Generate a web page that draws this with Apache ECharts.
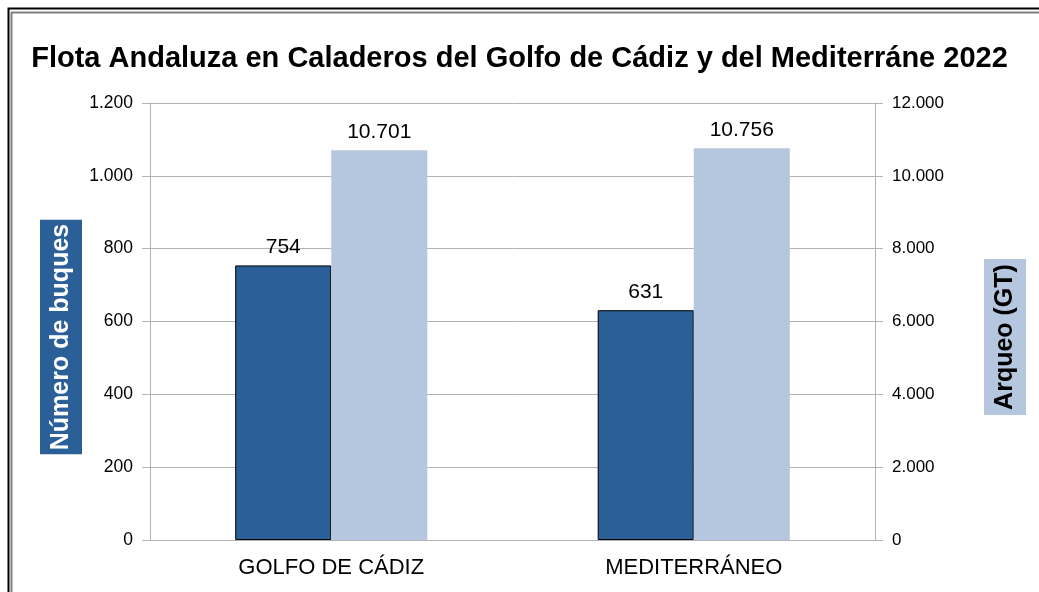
<!DOCTYPE html>
<html>
<head>
<meta charset="utf-8">
<script src="https://cdn.jsdelivr.net/npm/echarts@6/dist/echarts.min.js"></script>
<style>
  html, body { margin: 0; padding: 0; background: #fff; }
  #main { width: 1039px; height: 592px; }
</style>
</head>
<body>
<div id="main"></div>
<script>
var categories = ['GOLFO DE CÁDIZ', 'MEDITERRÁNEO'];
var buques = [754, 631];
var arqueo = [10701, 10756];

var chart = echarts.init(document.getElementById('main'));

function fmt(v) {
    return String(v).replace(/\B(?=(\d{3})+(?!\d))/g, '.');
}

var gray = '#b3b3b3';
var font = '"Liberation Sans", Arial, sans-serif';

var option = {
    backgroundColor: '#fff',
    textStyle: { fontFamily: font },
    title: {
        text: 'Flota Andaluza en Caladeros del Golfo de Cádiz y del Mediterráne 2022',
        left: 'center',
        top: 39,
        textStyle: { fontSize: 29, fontWeight: 'bold', color: '#000', fontFamily: font }
    },
    grid: { left: 150, right: 164, top: 103, bottom: 52 },
    xAxis: {
        type: 'category',
        data: categories,
        axisLine: { lineStyle: { color: gray } },
        axisTick: { length: 8, lineStyle: { color: gray } },
        axisLabel: { color: '#000', fontSize: 22, margin: 17, fontFamily: font }
    },
    yAxis: [{
        type: 'value',
        min: 0, max: 1200, interval: 200,
        axisLine: { show: true, lineStyle: { color: gray } },
        axisTick: { show: true, length: 8, lineStyle: { color: gray } },
        splitLine: { lineStyle: { color: gray } },
        axisLabel: { color: '#000', fontSize: 17.5, margin: 17, formatter: fmt, fontFamily: font }
    }, {
        type: 'value',
        min: 0, max: 12000, interval: 2000,
        axisLine: { show: true, lineStyle: { color: gray } },
        axisTick: { show: true, length: 8, lineStyle: { color: gray } },
        splitLine: { show: false },
        axisLabel: { color: '#000', fontSize: 17, margin: 17, formatter: fmt, fontFamily: font }
    }],
    graphic: [
        { type: 'rect', left: 6, top: 6, shape: { width: 1100, height: 700 }, style: { fill: 'none', stroke: '#000', lineWidth: 2 }, silent: true },
        { type: 'rect', left: 9, top: 10, shape: { width: 1100, height: 700 }, style: { fill: 'none', stroke: '#808080', lineWidth: 2 }, silent: true },
        {
            type: 'text', x: 61, y: 337, rotation: Math.PI / 2,
            style: {
                text: 'Número de buques', fill: '#fff', font: 'bold 25px ' + font,
                align: 'center', verticalAlign: 'middle',
                backgroundColor: '#2b5f98', padding: [9, 4, 8, 4]
            }
        },
        {
            type: 'text', x: 1005, y: 337, rotation: Math.PI / 2,
            style: {
                text: 'Arqueo (GT)', fill: '#000', font: 'bold 25px ' + font,
                align: 'center', verticalAlign: 'middle',
                backgroundColor: '#b4c7de', padding: [9, 5, 8, 5]
            }
        }
    ],
    series: [{
        name: 'Número de buques',
        type: 'bar',
        yAxisIndex: 0,
        data: buques,
        barGap: '0%',
        barCategoryGap: '47%',
        itemStyle: { color: '#2b5f98', borderColor: '#000', borderWidth: 1 },
        label: { show: true, position: 'top', distance: 8, color: '#000', fontSize: 21, formatter: function (p) { return fmt(p.value); } }
    }, {
        name: 'Arqueo (GT)',
        type: 'bar',
        yAxisIndex: 1,
        data: arqueo,
        barGap: '0%',
        barCategoryGap: '47%',
        itemStyle: { color: '#b4c7de' },
        label: { show: true, position: 'top', distance: 8, color: '#000', fontSize: 21, formatter: function (p) { return fmt(p.value); } }
    }]
};

chart.setOption(option);

window.onresize = chart.resize;
</script>
</body>
</html>
